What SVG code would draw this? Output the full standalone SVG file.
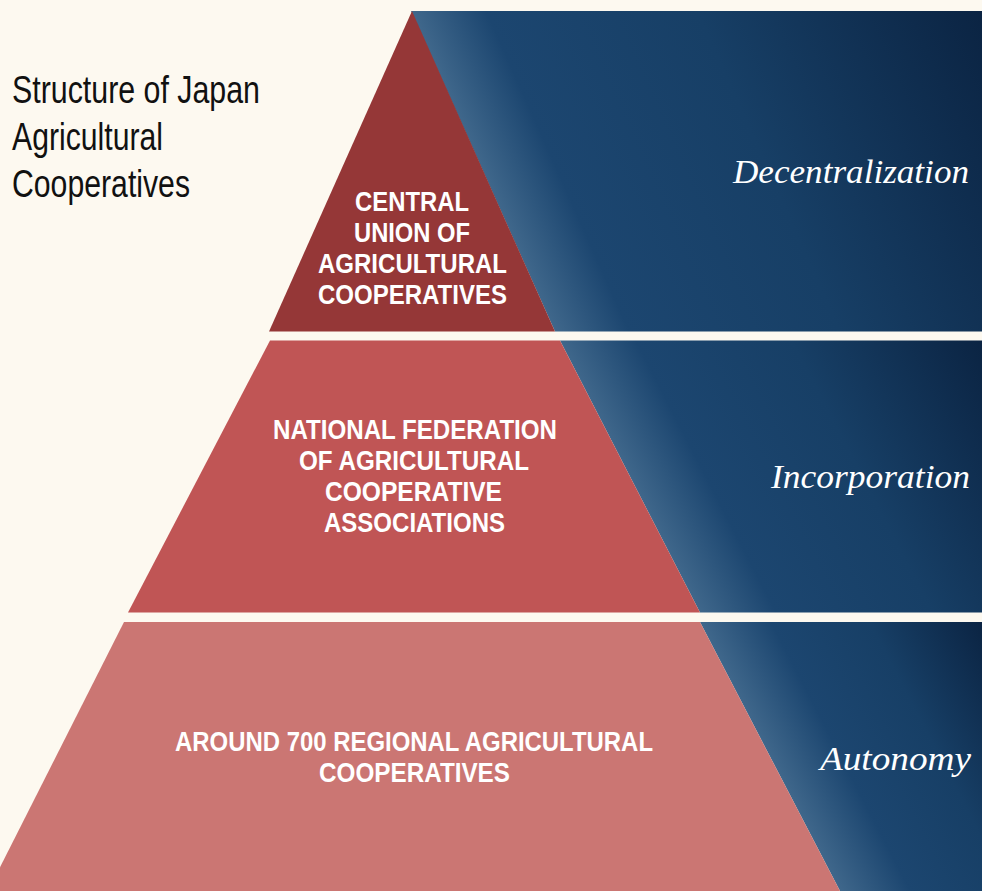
<svg xmlns="http://www.w3.org/2000/svg" width="982" height="891" viewBox="0 0 982 891">
  <style>
    .title { font-family: "Liberation Sans Narrow", "Liberation Sans", Arial, sans-serif; font-size: 38px; fill: #111111; }
    .lbl { font-family: "Liberation Sans Narrow", "Liberation Sans", Arial, sans-serif; font-size: 27px; font-weight: bold; fill: #ffffff; }
    .side { font-family: "Liberation Serif", "Times New Roman", serif; font-style: italic; font-size: 34px; fill: #ffffff; }
  </style>
  <defs>
    <linearGradient id="g1" gradientUnits="userSpaceOnUse" x1="555" y1="331" x2="1030" y2="119">
      <stop offset="0" stop-color="#3f678b"/>
      <stop offset="0.13" stop-color="#1c4670"/>
      <stop offset="0.5" stop-color="#173f66"/>
      <stop offset="1" stop-color="#0b2443"/>
    </linearGradient>
    <linearGradient id="g2" gradientUnits="userSpaceOnUse" x1="700" y1="612" x2="1033" y2="440">
      <stop offset="0" stop-color="#3f678b"/>
      <stop offset="0.18" stop-color="#1c4670"/>
      <stop offset="0.55" stop-color="#173f66"/>
      <stop offset="1" stop-color="#0b2443"/>
    </linearGradient>
    <linearGradient id="g3" gradientUnits="userSpaceOnUse" x1="840" y1="891" x2="1062" y2="776">
      <stop offset="0" stop-color="#3f678b"/>
      <stop offset="0.25" stop-color="#1c4670"/>
      <stop offset="0.6" stop-color="#173f66"/>
      <stop offset="1" stop-color="#0b2443"/>
    </linearGradient>
  </defs>

  <rect x="0" y="0" width="982" height="891" fill="#fdf9f0"/>

  <g id="title">
    <text class="title" x="12" y="103" textLength="248" lengthAdjust="spacingAndGlyphs">Structure of Japan</text>
    <text class="title" x="12" y="150" textLength="151" lengthAdjust="spacingAndGlyphs">Agricultural</text>
    <text class="title" x="12" y="197" textLength="178" lengthAdjust="spacingAndGlyphs">Cooperatives</text>
  </g>

  <g id="panel-decentralization">
    <polygon points="411,11 982,11 982,331.5 555,331.5" fill="url(#g1)"/>
    <text class="side" x="733" y="183" textLength="236" lengthAdjust="spacingAndGlyphs">Decentralization</text>
  </g>
  <g id="panel-incorporation">
    <polygon points="560,340.5 982,340.5 982,612.5 700,612.5" fill="url(#g2)"/>
    <text class="side" x="771" y="488" textLength="199" lengthAdjust="spacingAndGlyphs">Incorporation</text>
  </g>
  <g id="panel-autonomy">
    <polygon points="700,622 982,622 982,891 840,891" fill="url(#g3)"/>
    <text class="side" x="820" y="770" textLength="151" lengthAdjust="spacingAndGlyphs">Autonomy</text>
  </g>

  <g id="node-central-union">
    <polygon points="412,11 555,331.5 269,331.5" fill="#953737"/>
    <text class="lbl" x="355" y="211" textLength="114" lengthAdjust="spacingAndGlyphs">CENTRAL</text>
    <text class="lbl" x="354" y="242" textLength="116" lengthAdjust="spacingAndGlyphs">UNION OF</text>
    <text class="lbl" x="318" y="273" textLength="189" lengthAdjust="spacingAndGlyphs">AGRICULTURAL</text>
    <text class="lbl" x="318" y="304" textLength="189" lengthAdjust="spacingAndGlyphs">COOPERATIVES</text>
  </g>

  <g id="node-national-federation">
    <polygon points="270,340.5 560,340.5 700,612.5 128,612.5" fill="#c05555"/>
    <text class="lbl" x="273" y="439" textLength="284" lengthAdjust="spacingAndGlyphs">NATIONAL FEDERATION</text>
    <text class="lbl" x="299" y="470" textLength="230" lengthAdjust="spacingAndGlyphs">OF AGRICULTURAL</text>
    <text class="lbl" x="325" y="501" textLength="177" lengthAdjust="spacingAndGlyphs">COOPERATIVE</text>
    <text class="lbl" x="324" y="532" textLength="181" lengthAdjust="spacingAndGlyphs">ASSOCIATIONS</text>
  </g>

  <g id="node-regional-cooperatives">
    <polygon points="124,622 700,622 840,891 -12,891" fill="#cb7673"/>
    <text class="lbl" x="175" y="751" textLength="478" lengthAdjust="spacingAndGlyphs">AROUND 700 REGIONAL AGRICULTURAL</text>
    <text class="lbl" x="319" y="782" textLength="191" lengthAdjust="spacingAndGlyphs">COOPERATIVES</text>
  </g>

  <g id="connectors"/>
</svg>
